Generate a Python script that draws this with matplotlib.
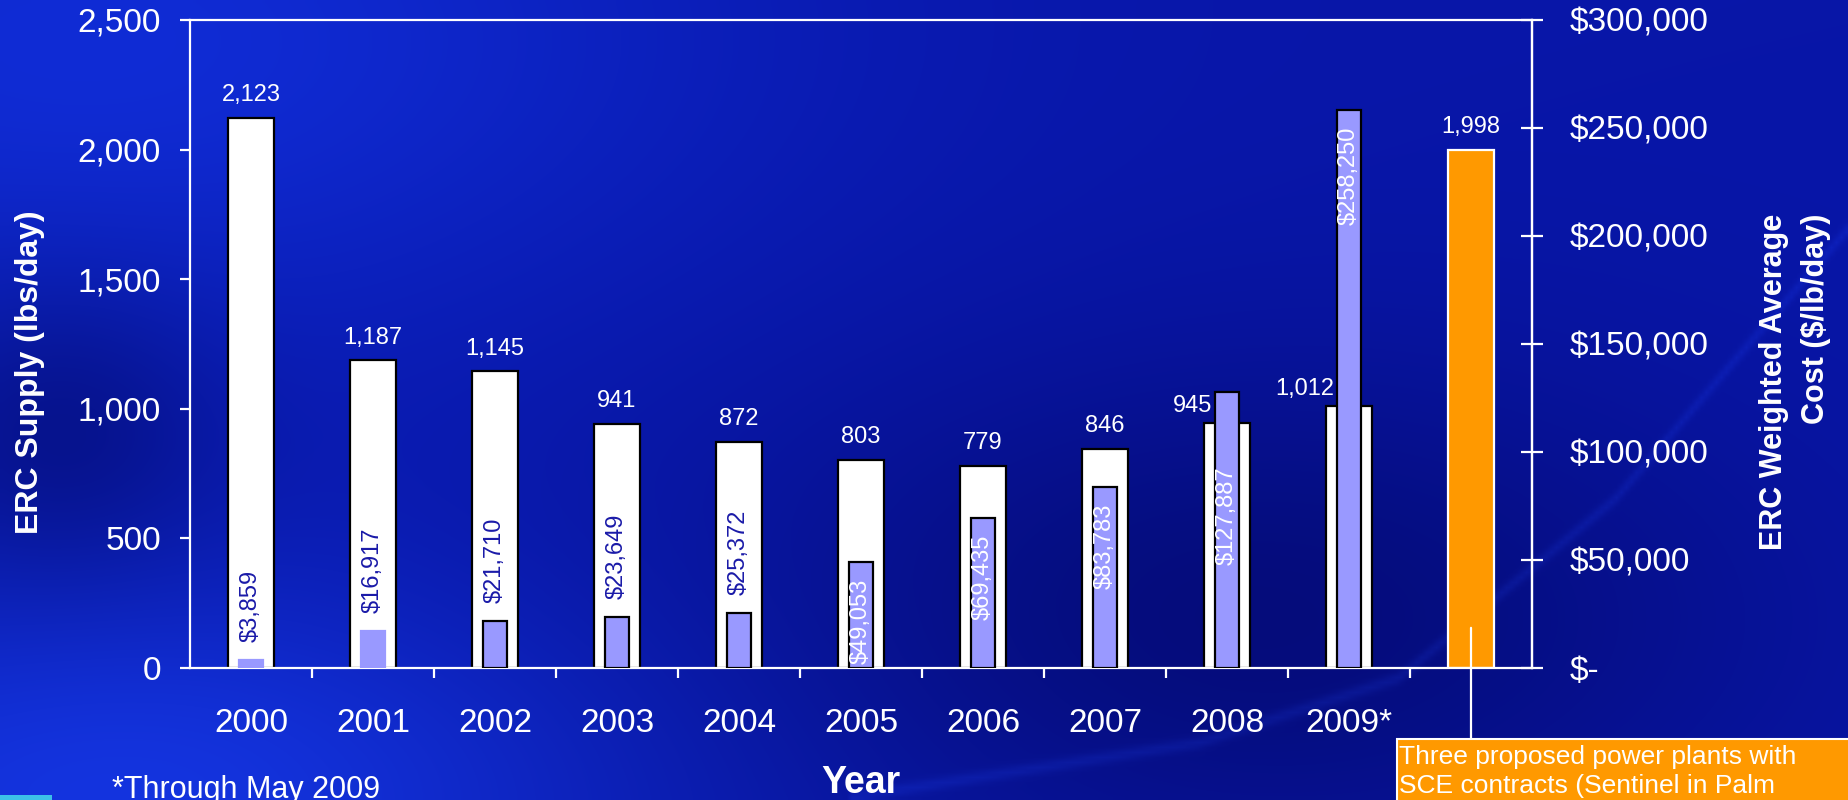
import numpy as np
import matplotlib
matplotlib.use("Agg")
import matplotlib.pyplot as plt
from matplotlib.patches import Rectangle

# ---------------- data ----------------
years = ["2000", "2001", "2002", "2003", "2004", "2005", "2006", "2007", "2008", "2009*"]
supply = [2123, 1187, 1145, 941, 872, 803, 779, 846, 945, 1012]
proposed_supply = 1998
cost = [3859, 16917, 21710, 23649, 25372, 49053, 69435, 83783, 127887, 258250]
supply_ticks = [0, 500, 1000, 1500, 2000, 2500]
cost_ticks = [0, 50000, 100000, 150000, 200000, 250000, 300000]

# label placement styles (not data)
cost_label_mode = ["out"] * 5 + ["in", "in", "in", "center", "in"]
supply_label_side = ["top"] * 8 + ["left", "left"]

plt.rcParams["font.family"] = ["Liberation Sans", "DejaVu Sans"]

W, H = 1849, 800
fig = plt.figure(figsize=(W / 100, H / 100), dpi=100)


def fy(py):
    return 1 - py / H


# ---------------- background ----------------
bg = fig.add_axes([0, 0, 1, 1], zorder=-10)
bg.set_axis_off()
nx, ny = 370, 160
X, Y = np.meshgrid(np.linspace(0, W, nx), np.linspace(0, H, ny))
img = np.zeros((ny, nx, 3))
base = np.array([8, 22, 168]) / 255.0
img[:] = base
g1 = np.exp(-(((X - 80) / 650) ** 2 + ((Y - 40) / 320) ** 2))
img += g1[..., None] * np.array([8, 22, 45]) / 255.0
g2 = np.exp(-(((X - 120) / 520) ** 2 + ((Y - 800) / 230) ** 2))
img += g2[..., None] * np.array([12, 30, 55]) / 255.0
g3 = np.exp(-(((X - 1250) / 520) ** 2 + ((Y - 620) / 260) ** 2))
img -= g3[..., None] * np.array([3, 10, 45]) / 255.0
g5 = np.exp(-(((X - 60) / 160) ** 2 + ((Y - 430) / 160) ** 2))
img -= g5[..., None] * np.array([4, 10, 40]) / 255.0
cx = np.array([850, 1200, 1400, 1617, 1849])
cyv = np.array([800, 745, 680, 500, 230])
cy = np.interp(X, cx, cyv)
g4 = np.exp(-((Y - cy) / 6) ** 2) * (X > 850)
img += g4[..., None] * np.array([5, 10, 20]) / 255.0
img = np.clip(img, 0, 1)
bg.imshow(img, aspect="auto", extent=[0, 1, 0, 1], interpolation="bilinear")
bg.set_xlim(0, 1)
bg.set_ylim(0, 1)

# ---------------- main axes ----------------
ax = fig.add_axes([190 / W, 1 - 668 / H, (1532 - 190) / W, (668 - 20) / H])
ax.set_facecolor("none")
x = np.arange(len(supply))
ax.bar(x, supply, width=0.37, color="white", edgecolor="black", linewidth=1.6, zorder=2)
x_prop = len(supply)
ax.bar([x_prop], [proposed_supply], width=0.37, color="#ff9900", edgecolor="white",
       linewidth=1.6, zorder=2)
ax.set_xlim(-0.5, len(supply) + 0.5)
ax.set_ylim(0, 2500)

ax2 = ax.twinx()
ax2.set_ylim(0, 300000)
purple = "#9999ff"
edges = [purple, purple] + ["black"] * (len(cost) - 2)
ax2.bar(x, cost, width=0.2, color=purple, edgecolor=edges, linewidth=1.6, zorder=3)

# spines
for a in (ax, ax2):
    for s in a.spines.values():
        s.set_color("white")
        s.set_linewidth(1.6)
ax2.spines["left"].set_visible(False)
ax2.spines["bottom"].set_visible(False)
ax2.spines["top"].set_visible(False)

# left y axis
ax.set_yticks(supply_ticks)
ax.set_yticklabels([f"{v:,}" for v in supply_ticks])
ax.tick_params(axis="y", colors="white", labelsize=24, length=7, width=1.6, pad=14,
               direction="out")
ax.yaxis.get_major_ticks()[0].tick1line.set_color("black")

# x axis
ax.set_xticks(list(x) + [x_prop])
ax.set_xticklabels(years + [""])
ax.tick_params(axis="x", which="major", length=0, labelsize=24, labelcolor="white", pad=29)
ax.set_xticks(np.arange(0.5, len(supply), 1.0), minor=True)
ax.tick_params(axis="x", which="minor", length=7, width=1.6, color="white", direction="out")

# right y axis
ax2.set_yticks(cost_ticks)
ax2.set_yticklabels(["$-" if v == 0 else f"${v:,}" for v in cost_ticks])
ax2.tick_params(axis="y", colors="white", labelsize=24, length=16, width=1.6, pad=19,
                direction="inout")
ax2.yaxis.get_major_ticks()[0].tick2line.set_color("black")

# supply value labels
for i, v in enumerate(supply):
    if supply_label_side[i] == "top":
        ax.annotate(f"{v:,}", (i, v), xytext=(0, 12), textcoords="offset points",
                    ha="center", va="baseline", color="white", fontsize=17)
    else:
        ax.annotate(f"{v:,}", (i - 0.1, v), xytext=(-2, 8), textcoords="offset points",
                    ha="right", va="baseline", color="white", fontsize=17)
ax.annotate(f"{proposed_supply:,}", (x_prop, proposed_supply), xytext=(0, 12),
            textcoords="offset points", ha="center", va="baseline", color="white",
            fontsize=17)

# cost value labels
for i, v in enumerate(cost):
    m = cost_label_mode[i]
    txt = f"${v:,}"
    if m == "out":
        ax2.annotate(txt, (i, v), xytext=(0, 13), textcoords="offset points",
                     ha="center", va="bottom", rotation=90, color="#1a1aa8", fontsize=17,
                     zorder=5)
    elif m == "in":
        ax2.annotate(txt, (i, v), xytext=(0, -12), textcoords="offset points",
                     ha="center", va="top", rotation=90, color="white", fontsize=17,
                     zorder=5)
    else:
        ax2.annotate(txt, (i, v / 2), xytext=(0, 10), textcoords="offset points",
                     ha="center", va="center", rotation=90, color="white", fontsize=17,
                     zorder=5)

# axis titles
fig.text(30 / W, fy(372), "ERC Supply (lbs/day)", rotation=90, ha="center", va="center",
         color="white", fontsize=23, fontweight="bold")
fig.text(1795 / W, fy(382), "ERC Weighted Average\nCost ($/lb/day)", rotation=90,
         ha="center", va="center", multialignment="right", linespacing=1.5,
         color="white", fontsize=22, fontweight="bold")
fig.text(861 / W, fy(793), "Year", ha="center", va="baseline", color="white",
         fontsize=27, fontweight="bold")
fig.text(112 / W, fy(798), "*Through May 2009", ha="left", va="baseline", color="white",
         fontsize=22)

# annotation box for proposed plants
box_top = fy(739)
fig.patches.append(Rectangle((1397 / W, -0.05), 0.5, box_top + 0.05,
                             transform=fig.transFigure, facecolor="#ff9900",
                             edgecolor="white", linewidth=1.5, zorder=5))
ax.annotate("", xy=(x_prop, 155), xycoords="data", xytext=(x_prop, box_top),
            textcoords=("data", "figure fraction"),
            arrowprops=dict(arrowstyle="-", color="white", lw=1.6, shrinkA=0, shrinkB=0),
            annotation_clip=False, zorder=6)
fig.text(1399 / W, fy(745), "Three proposed power plants with\nSCE contracts (Sentinel in Palm",
         ha="left", va="top", color="white", fontsize=19, linespacing=1.28, zorder=7)

# small logo fragment at bottom-left
fig.patches.append(Rectangle((0, 0), 52 / W, 5 / H, transform=fig.transFigure,
                             facecolor="#3cc0e8", edgecolor="none", zorder=5))

fig.savefig("out.png", dpi=100)
